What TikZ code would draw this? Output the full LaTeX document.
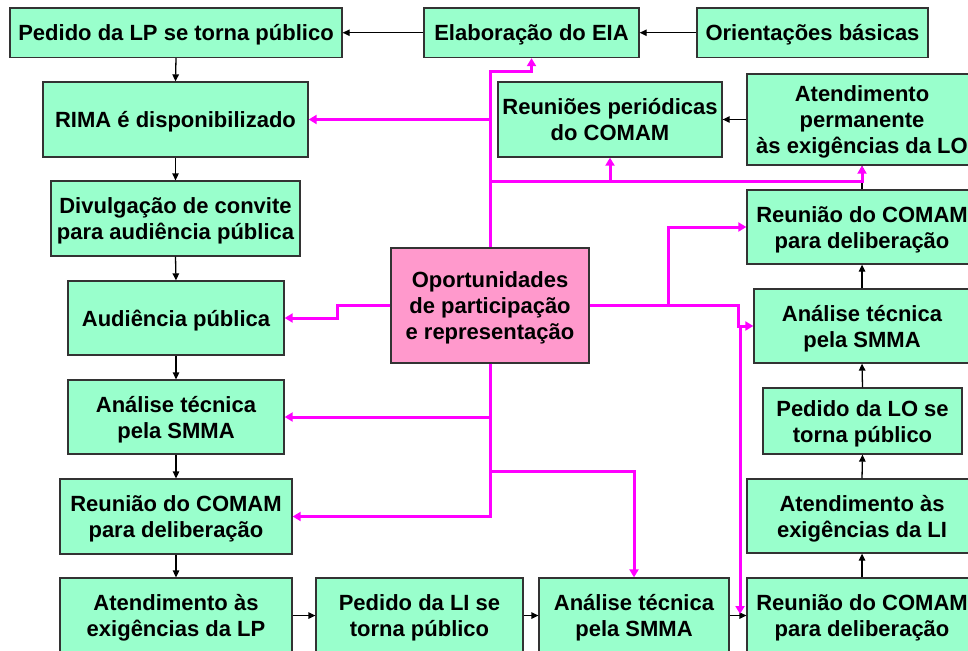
\documentclass[tikz,border=0pt]{standalone}
\usepackage{fontspec}
\setmainfont{Liberation Sans}
\usetikzlibrary{arrows.meta}
\definecolor{boxgreen}{RGB}{153,255,204}
\definecolor{boxpink}{RGB}{255,153,204}
\definecolor{mag}{RGB}{255,0,255}
\newcommand\bt[1]{\setbox\strutbox=\hbox{\vrule height 18.2pt depth 7.8pt width 0pt}%
  \renewcommand\arraystretch{1}%
  \raisebox{-3pt}[\height][\depth]{\begin{tabular}{@{}c@{}}#1\end{tabular}}}
\begin{document}
\begin{tikzpicture}[x=1pt,y=-1pt,
  gbox/.style={draw=black!80, line width=1.3pt, fill=boxgreen, inner sep=0pt,
               font=\fontsize{22}{26}\selectfont\bfseries},
  pbox/.style={gbox, fill=boxpink},
  blk/.style={draw=black, line width=1.3pt, -{Triangle[length=7pt,width=6.5pt]}},
  pnk/.style={draw=mag, line width=3pt, -{Triangle[length=8pt,width=9pt]}}]
\useasboundingbox (0,0) rectangle (968,650);
\clip (0,0) rectangle (968,650);
\fill[white] (0,0) rectangle (968,650);

% top row
\node[gbox, minimum width=332pt, minimum height=49.5pt] (A) at (176,32.75) {\bt{Pedido da LP se torna público}};
\node[gbox, minimum width=215pt, minimum height=49.5pt] (Elab) at (531.5,32.75) {\bt{Elaboração do EIA}};
\node[gbox, minimum width=231pt, minimum height=49.5pt] (Orient) at (812.5,32.75) {\bt{Orientações básicas}};

% left column
\node[gbox, minimum width=265pt, minimum height=75pt] (B) at (175.5,119.5) {\bt{RIMA é disponibilizado}};
\node[gbox, minimum width=249pt, minimum height=75pt] (C) at (175.5,218.5) {\bt{Divulgação de convite\\para audiência pública}};
\node[gbox, minimum width=216pt, minimum height=74pt] (D) at (176,318) {\bt{Audiência pública}};
\node[gbox, minimum width=216pt, minimum height=74pt] (E) at (176,417) {\bt{Análise técnica\\pela SMMA}};
\node[gbox, minimum width=232pt, minimum height=75pt] (F) at (176,516.5) {\bt{Reunião do COMAM\\para deliberação}};
\node[gbox, minimum width=232pt, minimum height=75pt] (G) at (176,615.5) {\bt{Atendimento às\\exigências da LP}};

% bottom row
\node[gbox, minimum width=207pt, minimum height=75pt] (H) at (419.5,615.5) {\bt{Pedido da LI se\\torna público}};
\node[gbox, minimum width=190pt, minimum height=75pt] (I) at (634,615.5) {\bt{Análise técnica\\pela SMMA}};
\node[gbox, minimum width=230pt, minimum height=75pt] (N) at (862,615.5) {\bt{Reunião do COMAM\\para deliberação}};

% right column
\node[gbox, minimum width=230pt, minimum height=74pt] (M) at (862,516) {\bt{Atendimento às\\exigências da LI}};
\node[gbox, minimum width=199pt, minimum height=66pt] (L) at (862.5,421) {\bt{Pedido da LO se\\torna público}};
\node[gbox, minimum width=216pt, minimum height=74pt] (K) at (862,326) {\bt{Análise técnica\\pela SMMA}};
\node[gbox, minimum width=230pt, minimum height=74pt] (J) at (862,227) {\bt{Reunião do COMAM\\para deliberação}};
\node[gbox, minimum width=230pt, minimum height=91pt] (AtLO) at (862,119.5) {\bt{Atendimento\\permanente\\às exigências da LO}};
\node[gbox, minimum width=224pt, minimum height=75pt] (Reun) at (610,119.5) {\bt{Reuniões periódicas\\do COMAM}};

% centre
\node[pbox, minimum width=198pt, minimum height=115pt] (P) at (490,305.5) {\bt{Oportunidades\\de participação\\e representação}};

% black connectors
\draw[blk] (Orient.west) -- (Elab.east);
\draw[blk] (Elab.west) -- (A.east);
\draw[blk] (A.south) -- (B.north);
\draw[blk] (B.south) -- (C.north);
\draw[blk] (C.south) -- (D.north);
\draw[blk] (D.south) -- (E.north);
\draw[blk] (E.south) -- (F.north);
\draw[blk] (F.south) -- (G.north);
\draw[blk] (G.east) -- (H.west);
\draw[blk] (H.east) -- (I.west);
\draw[blk] (I.east) -- (N.west);
\draw[blk] (N.north) -- (M.south);
\draw[blk] (M.north) -- (L.south);
\draw[blk] (L.north) -- (K.south);
\draw[blk] (K.north) -- (J.south);
\draw[blk] (J.north) -- (AtLO.south);
\draw[blk] (AtLO.west) -- (Reun.east);

% magenta connectors
\coordinate (up) at (490,72);
\coordinate (h1) at (490,181);
\coordinate (h2) at (490,471);
\coordinate (st) at (337,305.5);
\coordinate (r1) at (668,305.5);
\coordinate (r2) at (738,305.5);
\coordinate (r3) at (740,326);
\coordinate (Nend) at (740,614);
\draw[pnk] (P.north) -- (up) -| (Elab.south);
\draw[pnk] (B.east -| P.north) -- (B.east);
\draw[pnk] (h1) -| (Reun.south);
\draw[pnk] (h1) -| (AtLO.south);
\draw[pnk] (P.west) -- (st) |- (D.east);
\draw[pnk] (P.south) |- (E.east);
\draw[pnk] (P.south) |- (F.east);
\draw[pnk] (h2) -| (I.north);
\draw[pnk] (P.east) -- (r1) |- (J.west);
\draw[pnk] (r1) -- (r2) |- (K.west);
\draw[pnk] (r3) -- (Nend);
\end{tikzpicture}
\end{document}
